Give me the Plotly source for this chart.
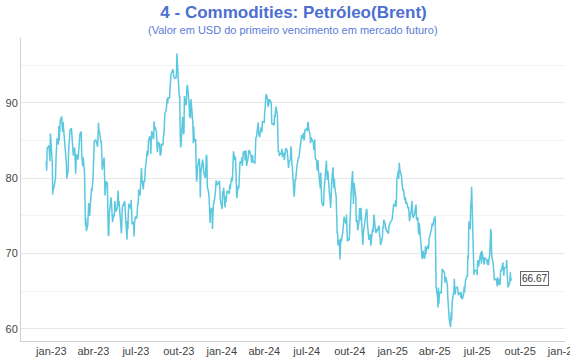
import plotly.graph_objects as go

# Brent front-month futures, daily closes (USD), grouped by month
months = ["2022-12",
          "2023-01", "2023-02", "2023-03", "2023-04", "2023-05", "2023-06",
          "2023-07", "2023-08", "2023-09", "2023-10", "2023-11", "2023-12",
          "2024-01", "2024-02", "2024-03", "2024-04", "2024-05", "2024-06",
          "2024-07", "2024-08", "2024-09", "2024-10", "2024-11", "2024-12",
          "2025-01", "2025-02", "2025-03", "2025-04", "2025-05", "2025-06",
          "2025-07", "2025-08", "2025-09"]

days = [
    [21, 22, 23, 27, 28, 29, 30],
    [3, 4, 5, 6, 9, 10, 11, 12, 13, 16, 17, 18, 19, 20, 23, 24, 25, 26, 27, 30, 31],
    [1, 2, 3, 6, 7, 8, 9, 10, 13, 14, 15, 16, 17, 20, 21, 22, 23, 24, 27, 28],
    [1, 2, 3, 6, 7, 8, 9, 10, 13, 14, 15, 16, 17, 20, 21, 22, 23, 24, 27, 28, 29, 30, 31],
    [3, 4, 5, 6, 10, 11, 12, 13, 14, 17, 18, 19, 20, 21, 24, 25, 26, 27, 28],
    [1, 2, 3, 4, 5, 8, 9, 10, 11, 12, 15, 16, 17, 18, 19, 22, 23, 24, 25, 26, 30, 31],
    [1, 2, 5, 6, 7, 8, 9, 12, 13, 14, 15, 16, 19, 20, 21, 22, 23, 26, 27, 28, 29, 30],
    [3, 4, 5, 6, 7, 10, 11, 12, 13, 14, 17, 18, 19, 20, 21, 24, 25, 26, 27, 28, 31],
    [1, 2, 3, 4, 7, 8, 9, 10, 11, 14, 15, 16, 17, 18, 21, 22, 23, 24, 25, 28, 29, 30, 31],
    [1, 4, 5, 6, 7, 8, 11, 12, 13, 14, 15, 18, 19, 20, 21, 22, 25, 26, 27, 28, 29],
    [2, 3, 4, 5, 6, 9, 10, 11, 12, 13, 16, 17, 18, 19, 20, 23, 24, 25, 26, 27, 30, 31],
    [1, 2, 3, 6, 7, 8, 9, 10, 13, 14, 15, 16, 17, 20, 21, 22, 23, 24, 27, 28, 29, 30],
    [1, 4, 5, 6, 7, 8, 11, 12, 13, 14, 15, 18, 19, 20, 21, 22, 27, 28, 29],
    [2, 3, 4, 5, 8, 9, 10, 11, 12, 15, 16, 17, 18, 19, 22, 23, 24, 25, 26, 29, 30, 31],
    [1, 2, 5, 6, 7, 8, 9, 12, 13, 14, 15, 16, 19, 20, 21, 22, 23, 26, 27, 28, 29],
    [1, 4, 5, 6, 7, 8, 11, 12, 13, 14, 15, 18, 19, 20, 21, 22, 25, 26, 27, 28],
    [1, 2, 3, 4, 5, 8, 9, 10, 11, 12, 15, 16, 17, 18, 19, 22, 23, 24, 25, 26, 29, 30],
    [1, 2, 3, 6, 7, 8, 9, 10, 13, 14, 15, 16, 17, 20, 21, 22, 23, 24, 27, 28, 29, 30, 31],
    [3, 4, 5, 6, 7, 10, 11, 12, 13, 14, 17, 18, 19, 20, 21, 24, 25, 26, 27, 28],
    [1, 2, 3, 4, 5, 8, 9, 10, 11, 12, 15, 16, 17, 18, 19, 22, 23, 24, 25, 26, 29, 30, 31],
    [1, 2, 5, 6, 7, 8, 9, 12, 13, 14, 15, 16, 19, 20, 21, 22, 23, 26, 27, 28, 29, 30],
    [2, 3, 4, 5, 6, 9, 10, 11, 12, 13, 16, 17, 18, 19, 20, 23, 24, 25, 26, 27, 30],
    [1, 2, 3, 4, 7, 8, 9, 10, 11, 14, 15, 16, 17, 18, 21, 22, 23, 24, 25, 28, 29, 30, 31],
    [1, 4, 5, 6, 7, 8, 11, 12, 13, 14, 15, 18, 19, 20, 21, 22, 25, 26, 27, 28, 29],
    [2, 3, 4, 5, 6, 9, 10, 11, 12, 13, 16, 17, 18, 19, 20, 23, 24, 27, 30, 31],
    [2, 3, 6, 7, 8, 9, 10, 13, 14, 15, 16, 17, 20, 21, 22, 23, 24, 27, 28, 29, 30, 31],
    [3, 4, 5, 6, 7, 10, 11, 12, 13, 14, 17, 18, 19, 20, 21, 24, 25, 26, 27, 28],
    [3, 4, 5, 6, 7, 10, 11, 12, 13, 14, 17, 18, 19, 20, 21, 24, 25, 26, 27, 28, 31],
    [1, 2, 3, 4, 7, 8, 9, 10, 11, 14, 15, 16, 17, 22, 23, 24, 25, 28, 29, 30],
    [1, 2, 5, 6, 7, 8, 9, 12, 13, 14, 15, 16, 19, 20, 21, 22, 23, 26, 27, 28, 29, 30],
    [2, 3, 4, 5, 6, 9, 10, 11, 12, 13, 16, 17, 18, 19, 20, 23, 24, 25, 26, 27, 30],
    [1, 2, 3, 4, 7, 8, 9, 10, 11, 14, 15, 16, 17, 18, 21, 22, 23, 24, 25, 28, 29, 30, 31],
    [1, 4, 5, 6, 7, 8, 11, 12, 13, 14, 15, 18, 19, 20, 21, 22, 25, 26, 27, 28, 29],
    [1, 2, 3, 4, 5, 8, 9, 10, 11, 12],
]

prices = [
    [82.20, 80.98, 83.92, 84.33, 83.26, 82.26, 85.91],
    [82.10, 77.84, 78.69, 78.57, 79.65, 80.10, 82.67, 84.03, 85.28, 84.46, 86.92, 84.98, 86.16, 87.63, 88.19, 86.13, 86.12, 87.47, 86.66, 84.90, 84.49],
    [82.84, 82.17, 79.94, 80.99, 83.69, 84.69, 84.50, 86.39, 86.61, 85.58, 85.38, 85.14, 83.00, 84.07, 83.05, 80.60, 82.21, 83.16, 82.45, 83.89],
    [84.31, 84.75, 85.83, 86.18, 83.29, 82.66, 81.59, 82.78, 80.77, 77.45, 73.69, 74.70, 72.97, 73.79, 75.32, 76.69, 75.91, 74.99, 78.12, 78.65, 78.28, 79.27, 79.77],
    [84.93, 84.94, 84.99, 85.12, 84.18, 85.61, 87.33, 86.09, 86.31, 84.76, 84.77, 83.12, 81.10, 81.66, 82.73, 80.77, 77.69, 78.37, 79.54],
    [79.31, 75.32, 72.33, 72.50, 75.30, 77.01, 77.44, 76.41, 74.98, 74.17, 75.23, 74.91, 76.96, 75.86, 75.58, 75.99, 76.84, 78.36, 76.26, 76.95, 73.54, 72.66],
    [74.28, 76.13, 76.71, 76.29, 76.95, 75.96, 74.79, 71.84, 74.29, 73.20, 75.67, 76.61, 76.09, 75.90, 77.12, 74.14, 73.85, 74.18, 72.26, 74.03, 74.34, 74.90],
    [74.65, 76.25, 76.65, 76.52, 78.47, 77.69, 79.40, 80.11, 81.36, 79.87, 78.50, 79.63, 79.46, 79.64, 81.07, 82.74, 83.64, 82.92, 83.24, 84.99, 85.56],
    [84.91, 83.20, 85.14, 86.24, 85.34, 85.17, 87.55, 86.40, 86.81, 86.21, 84.89, 83.45, 84.12, 84.80, 84.46, 82.96, 83.21, 83.36, 84.48, 84.42, 85.49, 85.86, 86.86],
    [88.55, 89.00, 90.04, 90.60, 89.92, 90.65, 90.64, 92.06, 91.88, 93.70, 93.93, 94.43, 94.34, 93.53, 93.30, 93.27, 93.29, 93.96, 96.55, 95.38, 95.31],
    [90.71, 90.92, 85.81, 84.07, 84.58, 88.15, 87.65, 85.82, 86.00, 90.89, 89.65, 89.90, 91.50, 92.38, 92.16, 89.83, 88.07, 90.13, 87.93, 90.48, 87.45, 87.41],
    [84.63, 86.85, 84.89, 85.18, 81.61, 79.54, 80.01, 81.43, 82.52, 82.47, 81.18, 77.42, 80.61, 82.32, 82.45, 81.96, 81.42, 80.58, 79.98, 81.68, 83.10, 82.83],
    [78.88, 78.03, 77.20, 74.30, 74.05, 75.84, 76.03, 73.24, 74.26, 76.61, 76.55, 77.95, 79.23, 79.70, 79.39, 79.07, 79.65, 78.39, 77.04],
    [75.89, 78.25, 77.59, 78.76, 76.12, 77.59, 76.80, 77.41, 78.29, 78.15, 78.29, 77.88, 79.10, 78.56, 80.06, 79.55, 80.04, 82.43, 83.55, 82.40, 82.87, 81.71],
    [78.70, 77.33, 78.99, 78.59, 79.21, 81.63, 82.19, 82.00, 82.77, 81.60, 82.86, 83.47, 83.56, 82.34, 83.03, 83.67, 81.62, 82.53, 83.65, 83.68, 83.62],
    [83.55, 82.80, 82.04, 82.96, 82.96, 82.08, 82.21, 81.92, 84.03, 85.42, 85.34, 86.89, 87.38, 85.95, 85.78, 85.43, 86.75, 86.25, 86.09, 87.48],
    [87.42, 88.92, 89.35, 90.65, 91.17, 90.38, 89.42, 90.48, 89.74, 90.45, 90.10, 90.02, 87.29, 87.11, 87.29, 87.00, 88.42, 88.02, 89.01, 89.50, 88.40, 86.33],
    [83.44, 83.67, 82.96, 83.33, 83.16, 83.58, 83.88, 82.79, 83.36, 82.38, 82.75, 83.27, 83.98, 83.71, 82.88, 82.90, 81.36, 82.12, 82.50, 84.22, 83.60, 81.86, 81.62],
    [78.36, 77.52, 78.41, 79.87, 79.62, 81.63, 81.92, 82.60, 82.75, 82.62, 84.25, 85.33, 85.07, 85.71, 85.24, 86.01, 85.01, 85.25, 86.39, 86.41],
    [86.60, 86.24, 87.34, 87.43, 86.54, 85.75, 84.66, 85.08, 85.40, 85.03, 84.85, 83.73, 85.08, 85.11, 82.63, 82.40, 81.01, 81.71, 82.37, 81.13, 79.78, 78.63, 80.72],
    [79.52, 76.81, 76.30, 76.48, 78.33, 79.16, 79.66, 82.30, 80.69, 79.76, 80.98, 79.68, 77.66, 77.20, 76.05, 77.22, 79.02, 81.43, 79.55, 78.65, 79.94, 78.80],
    [77.52, 73.75, 72.70, 72.69, 71.06, 71.84, 69.19, 70.61, 71.97, 71.61, 72.75, 73.70, 73.65, 74.88, 74.49, 73.90, 75.17, 73.46, 71.60, 71.98, 71.77],
    [73.56, 73.90, 77.62, 78.05, 80.93, 77.18, 76.58, 79.40, 79.04, 77.46, 74.25, 74.22, 74.45, 73.06, 74.29, 76.04, 74.96, 74.38, 76.05, 71.42, 71.12, 72.55, 73.16],
    [73.10, 75.08, 75.53, 75.92, 75.63, 73.87, 71.83, 71.89, 72.28, 72.56, 71.04, 73.30, 73.31, 72.81, 74.23, 75.17, 73.01, 72.81, 72.83, 73.28, 72.94],
    [73.62, 73.62, 72.31, 72.09, 71.12, 72.14, 72.19, 73.52, 73.41, 74.49, 73.91, 73.19, 73.39, 72.88, 72.94, 72.63, 73.58, 74.17, 74.39, 74.64],
    [75.93, 76.51, 76.30, 77.05, 76.16, 76.92, 79.76, 81.01, 79.92, 82.03, 81.29, 81.01, 80.15, 79.29, 79.00, 78.29, 78.50, 77.08, 77.49, 76.58, 76.87, 76.76],
    [75.96, 76.20, 74.61, 74.29, 74.66, 75.87, 77.00, 75.18, 75.02, 74.74, 75.22, 75.84, 76.04, 76.48, 74.43, 74.78, 73.02, 72.53, 74.04, 73.18],
    [71.62, 71.04, 69.30, 69.46, 70.36, 69.28, 69.56, 70.95, 69.88, 70.58, 71.07, 70.56, 70.78, 72.00, 72.16, 73.00, 73.02, 73.79, 74.03, 73.63, 74.74],
    [74.49, 74.95, 70.14, 65.58, 64.21, 62.82, 65.48, 63.33, 64.76, 64.88, 64.67, 65.85, 67.96, 67.44, 66.12, 66.55, 66.87, 65.86, 64.25, 63.12],
    [62.13, 61.29, 60.23, 62.15, 61.12, 62.84, 63.91, 64.96, 66.63, 65.09, 64.53, 65.41, 65.54, 65.38, 64.91, 64.44, 64.78, 64.74, 64.09, 64.90, 64.15, 63.90],
    [64.63, 65.63, 64.86, 65.34, 66.47, 67.04, 66.87, 69.77, 69.36, 74.23, 73.23, 76.45, 76.70, 78.85, 77.01, 71.48, 67.14, 67.68, 67.73, 67.77, 67.61],
    [67.11, 69.11, 68.80, 68.30, 69.58, 70.15, 70.19, 68.64, 70.36, 69.21, 68.71, 68.52, 69.52, 69.28, 69.21, 68.59, 68.51, 69.18, 68.44, 70.04, 72.51, 73.24, 72.53],
    [69.67, 68.76, 67.64, 66.89, 66.43, 66.59, 66.63, 66.12, 65.63, 66.84, 65.85, 66.60, 65.79, 67.84, 67.67, 67.73, 68.80, 67.22, 67.05, 68.05, 68.12],
    [68.15, 69.14, 67.60, 66.99, 65.50, 66.02, 66.39, 67.49, 66.37, 66.67],
]

tick_dates = ["2023-01-01", "2023-04-01", "2023-07-01", "2023-10-01",
              "2024-01-01", "2024-04-01", "2024-07-01", "2024-10-01",
              "2025-01-01", "2025-04-01", "2025-07-01", "2025-10-01",
              "2026-01-01"]
tick_labels = ["jan-23", "abr-23", "jul-23", "out-23",
               "jan-24", "abr-24", "jul-24", "out-24",
               "jan-25", "abr-25", "jul-25", "out-25",
               "jan-26"]

title_text = "4 - Commodities: Petróleo(Brent)"
subtitle_text = "(Valor em USD do primeiro vencimento em mercado futuro)"

dates, values = [], []
for m, ds, ps in zip(months, days, prices):
    assert len(ds) == len(ps), m
    dates += [f"{m}-{d:02d}" for d in ds]
    values += ps

FONT = "Liberation Sans, Arial, Helvetica, sans-serif"

fig = go.Figure(go.Scatter(
    x=dates, y=values, mode="lines",
    line=dict(color="#5bc8df", width=1.5),
    name="Brent",
))

fig.add_annotation(
    x=dates[-1], y=values[-1], text=f"{values[-1]:.2f}",
    xanchor="left", yanchor="middle", xshift=9, showarrow=False,
    bordercolor="#666666", borderwidth=1, borderpad=1, bgcolor="white",
    font=dict(family=FONT, size=10, color="#333333"),
)
fig.add_annotation(
    x=0.5, xref="paper", y=1, yref="paper", yanchor="middle", yshift=8,
    text=subtitle_text, showarrow=False,
    font=dict(family=FONT, size=11, color="#5a7bd8"),
)

fig.update_layout(
    width=570, height=360,
    margin=dict(l=21, r=5, t=38, b=19, autoexpand=False),
    paper_bgcolor="white", plot_bgcolor="white",
    showlegend=False,
    font=dict(family=FONT, size=11, color="#444444"),
    title=dict(text=f"<b>{title_text}</b>", x=0.515, xanchor="center",
               y=1 - 12 / 360, yanchor="middle", yref="container",
               font=dict(family=FONT, size=17, color="#4c6fd1")),
    xaxis=dict(
        type="date", range=["2022-10-28", "2026-01-05"],
        tickvals=tick_dates, ticktext=tick_labels,
        showgrid=False, zeroline=False, automargin=False,
        showline=True, linecolor="#d0d0d0", linewidth=1,
        ticks="", ticklabeloverflow="allow",
        tickfont=dict(size=11, color="#444444"),
    ),
    yaxis=dict(
        range=[58.38, 98.6], dtick=10, tick0=0,
        showgrid=True, gridcolor="#e8e8e8", gridwidth=1,
        minor=dict(dtick=5, tick0=0, showgrid=True, gridcolor="#f3f3f3"),
        zeroline=False, automargin=False,
        showline=True, linecolor="#d0d0d0", linewidth=1,
        ticks="", tickfont=dict(size=11, color="#444444"),
    ),
)

fig.write_html(
    "out.html",
    config={"displayModeBar": False},
    post_script="document.body.style.margin='0';document.body.style.overflow='hidden';",
)
